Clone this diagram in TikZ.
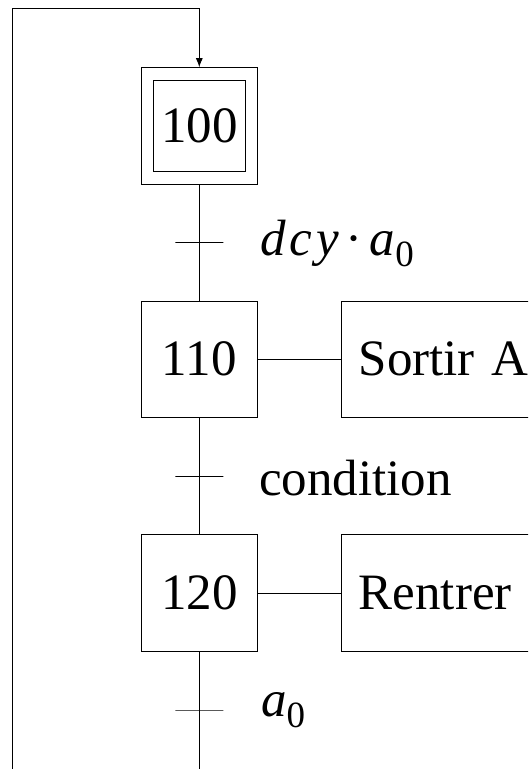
\RequirePackage{fix-cm}
\documentclass[tikz,border=0pt]{standalone}
\usepackage{fontspec}
\setmainfont{Liberation Serif}
\usetikzlibrary{arrows.meta}
\newcommand{\subz}[1]{\raisebox{-0.22em}{\fontsize{37}{40}\selectfont #1}}
\tikzset{
  every picture/.style={x=1pt,y=-1pt},
  ln/.style={line width=0.9pt},
  bigfont/.style={font=\fontsize{51}{55}\selectfont},
  stepbox/.style={draw,ln,bigfont,minimum width=116.5pt,minimum height=116.5pt,inner sep=0pt},
  innerbox/.style={draw,ln,minimum width=91.5pt,minimum height=91.5pt,inner sep=0pt},
  actbox/.style={draw,ln,bigfont,minimum height=116.5pt,inner xsep=17pt,inner ysep=0pt,anchor=west,align=left,text width=180pt},
  trans/.style={draw,ln,minimum width=48pt,minimum height=0pt,inner sep=0pt,shape=rectangle},
  lbl/.style={anchor=base west,inner sep=0pt,bigfont},
}
\begin{document}
\begin{tikzpicture}
\clip (0,0) rectangle (528,769);
\node[stepbox] (s100) at (199.3,125.9) {100};
\node[innerbox] (s100i) at (199.3,125.9) {};
\node[stepbox] (s110) at (199.3,359.2) {110};
\node[stepbox] (s120) at (199.3,593) {120};
\node[actbox] (a110) at (341.3,359.2) {Sortir A};
\node[actbox] (a120) at (341.3,593) {Rentrer};
\node[trans] (t1) at (199.3,242.3) {};
\node[trans] (t2) at (199.3,476.3) {};
\node[trans] (t3) at (199.3,710) {};
\node[lbl] (l1) at (260,255) {\itshape d\kern4pt c\kern4pt y\kern7pt\upshape·\kern7pt\itshape a\upshape\subz{0}};
\node[lbl] (l2) at (259,495) {condition};
\node[lbl] (l3) at (261,716.7) {\itshape a\upshape\subz{0}};
\coordinate (c1) at (199.3,800);
\coordinate (c2) at (12.7,800);
\coordinate (c3) at (12.7,8.3);
\coordinate (c4) at (199.3,8.3);
\draw[ln] (s100) -- (t1) -- (s110);
\draw[ln] (s110) -- (t2) -- (s120);
\draw[ln] (s120) -- (t3) -- (c1);
\draw[ln,-{Latex[length=9pt,width=7pt]}] (c1) -- (c2) -- (c3) -- (c4) -- (s100.north);
\draw[ln] (s110.east) -- (a110.west);
\draw[ln] (s120.east) -- (a120.west);
\end{tikzpicture}
\end{document}
